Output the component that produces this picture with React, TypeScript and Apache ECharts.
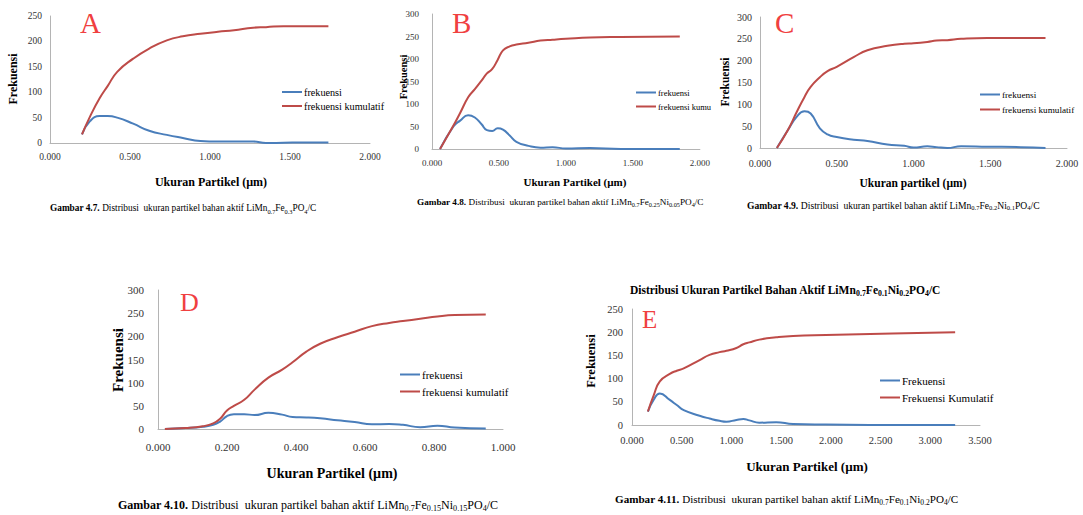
import React, { useEffect, useRef } from 'react';
import * as echarts from 'echarts';

// ---------- DATA ----------
// Panel A: LiMn0.7Fe0.3PO4/C
const sizesA = [0.2, 0.25, 0.31, 0.36, 0.42, 0.52, 0.62, 0.73, 0.83, 0.94, 1.05, 1.15, 1.27, 1.35, 1.46, 1.6, 1.74];
const freqA = [17, 43, 53, 53, 50, 38, 24, 16, 10, 4, 3, 3, 3, 0, 0.5, 1, 1];
const cumA = [17, 52, 88, 112, 140, 166, 186, 202, 210, 215, 219, 222, 227, 228, 230, 230, 230];

// Panel B: LiMn0.7Fe0.25Ni0.05PO4/C
const sizesB = [0.06, 0.16, 0.21, 0.27, 0.32, 0.37, 0.41, 0.45, 0.49, 0.53, 0.58, 0.63, 0.72, 0.81, 0.9, 1.0, 1.18, 1.41, 1.85];
const freqB = [0, 50, 63, 75, 70, 55, 42, 40, 46, 43, 30, 16, 7, 3, 4, 1, 2, 0, 0];
const cumB = [0, 52, 80, 115, 133, 152, 168, 178, 198, 219, 228, 232, 236, 241, 243, 245, 248, 249, 250];

// Panel C: LiMn0.7Fe0.2Ni0.1PO4/C
const sizesC = [0.11, 0.18, 0.24, 0.29, 0.33, 0.39, 0.44, 0.5, 0.61, 0.7, 0.83, 0.94, 1.0, 1.09, 1.15, 1.22, 1.31, 1.48, 1.7, 1.86];
const freqC = [0, 40, 72, 84, 79, 45, 31, 25, 19, 16, 8, 5, 1, 4, 2, 0, 4, 3, 2, 0];
const cumC = [0, 40, 83, 117, 140, 162, 176, 186, 208, 224, 234, 239, 240, 243, 246, 247, 250, 252, 252, 252];

// Panel D: LiMn0.7Fe0.15Ni0.15PO4/C
const sizesD = [0.02, 0.08, 0.13, 0.16, 0.18, 0.2, 0.22, 0.25, 0.28, 0.32, 0.36, 0.39, 0.43, 0.47, 0.52, 0.57, 0.62, 0.67, 0.71, 0.76, 0.81, 0.86, 0.95];
const freqD = [0, 2, 5, 9, 16, 28, 32, 32, 30, 35, 31, 26, 25, 23, 19, 15, 10, 11, 9, 4, 7, 3, 1];
const cumD = [0, 2, 6, 12, 22, 40, 50, 63, 85, 111, 128, 144, 167, 184, 198, 210, 222, 229, 233, 238, 243, 246, 247];

// Panel E: LiMn0.7Fe0.1Ni0.2PO4/C
const sizesE = [0.16, 0.22, 0.28, 0.38, 0.45, 0.52, 0.68, 0.78, 0.88, 0.95, 1.05, 1.12, 1.18, 1.28, 1.45, 1.62, 1.95, 2.62, 3.25];
const freqE = [29, 55, 68, 54, 43, 32, 20, 14, 9, 7, 11, 13, 10, 5, 6, 2, 1, 0, 0];
const cumE = [29, 65, 94, 110, 117, 122, 140, 151, 157, 160, 166, 174, 178, 184, 189, 192, 194, 197, 200];

const namesLower = ['frekuensi', 'frekuensi kumulatif'];
const namesUpper = ['Frekuensi', 'Frekuensi Kumulatif'];
// panel B's legend is cut off by panel C in the reference
const legendTextB = ['frekuensi', 'frekuensi kumu'];

const capA = '{b|Gambar 4.7.}{n| Distribusi  ukuran partikel bahan aktif LiMn}{s|0.7}{n|Fe}{s|0.3}{n|PO}{s|4}{n|/C}';
const capB = '{b|Gambar 4.8.}{n| Distribusi  ukuran partikel bahan aktif LiMn}{s|0.7}{n|Fe}{s|0.25}{n|Ni}{s|0.05}{n|PO}{s|4}{n|/C}';
const capC = '{b|Gambar 4.9.}{n| Distribusi  ukuran partikel bahan aktif LiMn}{s|0.7}{n|Fe}{s|0.2}{n|Ni}{s|0.1}{n|PO}{s|4}{n|/C}';
const capD = '{b|Gambar 4.10.}{n| Distribusi  ukuran partikel bahan aktif LiMn}{s|0.7}{n|Fe}{s|0.15}{n|Ni}{s|0.15}{n|PO}{s|4}{n|/C}';
const capE = '{b|Gambar 4.11.}{n| Distribusi  ukuran partikel bahan aktif LiMn}{s|0.7}{n|Fe}{s|0.1}{n|Ni}{s|0.2}{n|PO}{s|4}{n|/C}';
const headerE = '{b|Distribusi Ukuran Partikel Bahan Aktif LiMn}{s|0.7}{b|Fe}{s|0.1}{b|Ni}{s|0.2}{b|PO}{s|4}{b|/C}';

// ---------- STYLE ----------
const SERIF = 'Liberation Serif';
const BLUE = '#4a7ebb';
const RED = '#be4b48';
const LETTER = '#f04040';
const AXIS = '#b4b4b4';

const panels = [
  {
    box: { left: 0, top: 0, width: 390, height: 222 },
    grid: { left: 50, top: 16, width: 320, height: 127 },
    xMax: 2, xInt: 0.5, yMax: 250, yInt: 50,
    xs: sizesA, freq: freqA, cum: cumA, names: namesLower, legendText: namesLower,
    labelSize: 9.5, xMargin: 9, yMargin: 8,
    letter: { text: 'A', x: 80, y: 23, size: 29 },
    yTitle: { x: 13, y: 79, size: 12 },
    xTitle: { text: 'Ukuran Partikel (\u00b5m)', x: 211, y: 182, size: 12 },
    legend: { left: 282, top: 87, size: 10.2, gap: 4 },
    caption: { text: capA, x: 50, y: 208, size: 9.3 },
  },
  {
    box: { left: 390, top: 0, width: 323, height: 222 },
    grid: { left: 42, top: 14, width: 288, height: 135 },
    xMax: 2, xInt: 0.5, yMax: 300, yInt: 50,
    xs: sizesB, freq: freqB, cum: cumB, names: namesLower, legendText: legendTextB,
    labelSize: 9, xMargin: 9, yMargin: 13,
    letter: { text: 'B', x: 62, y: 23, size: 29 },
    yTitle: { x: 13, y: 77, size: 10.5 },
    xTitle: { text: 'Ukuran Partikel (\u00b5m)', x: 185, y: 182, size: 11 },
    legend: { left: 246, top: 88, size: 8.5, gap: 5 },
    caption: { text: capB, x: 27, y: 202, size: 9.2 },
  },
  {
    box: { left: 713, top: 0, width: 370, height: 222 },
    grid: { left: 47, top: 17, width: 307, height: 131 },
    xMax: 2, xInt: 0.5, yMax: 300, yInt: 50,
    xs: sizesC, freq: freqC, cum: cumC, names: namesLower, legendText: namesLower,
    labelSize: 10, xMargin: 10, yMargin: 8,
    letter: { text: 'C', x: 62, y: 23, size: 29 },
    yTitle: { x: 12, y: 82, size: 11.5 },
    xTitle: { text: 'Ukuran partikel (\u00b5m)', x: 200, y: 183, size: 11.5 },
    legend: { left: 267, top: 90, size: 9.2, gap: 6 },
    caption: { text: capC, x: 34, y: 205, size: 9.6 },
  },
  {
    box: { left: 110, top: 270, width: 440, height: 245 },
    grid: { left: 48, top: 20, width: 345, height: 139 },
    xMax: 1, xInt: 0.2, yMax: 300, yInt: 50,
    xs: sizesD, freq: freqD, cum: cumD, names: namesLower, legendText: namesLower,
    labelSize: 11, xMargin: 12, yMargin: 14,
    letter: { text: 'D', x: 70, y: 32, size: 26 },
    yTitle: { x: 8, y: 90, size: 15 },
    xTitle: { text: 'Ukuran Partikel (\u00b5m)', x: 222, y: 203, size: 14 },
    legend: { left: 290, top: 99, size: 11, gap: 6 },
    caption: { text: capD, x: 8, y: 235, size: 12 },
  },
  {
    box: { left: 560, top: 270, width: 470, height: 245 },
    grid: { left: 72, top: 39, width: 348, height: 116 },
    xMax: 3.5, xInt: 0.5, yMax: 250, yInt: 50,
    xs: sizesE, freq: freqE, cum: cumE, names: namesUpper, legendText: namesUpper,
    labelSize: 10.5, xMargin: 10, yMargin: 9,
    letter: { text: 'E', x: 82, y: 49, size: 25 },
    yTitle: { x: 31, y: 91, size: 12.5 },
    xTitle: { text: 'Ukuran Partikel (\u00b5m)', x: 247, y: 196, size: 13 },
    legend: { left: 320, top: 105, size: 11, gap: 6 },
    caption: { text: capE, x: 55, y: 229, size: 11.1 },
    header: { text: headerE, x: 225, y: 20, size: 11.5 },
  },
];

function richFor(size: number, bold = false) {
  return {
    b: { fontFamily: SERIF, fontSize: size, fontWeight: 'bold', color: '#000', lineHeight: size * 1.3 },
    n: { fontFamily: SERIF, fontSize: size, fontWeight: bold ? 'bold' : 'normal', color: '#000', lineHeight: size * 1.3 },
    s: { fontFamily: SERIF, fontSize: size * 0.68, fontWeight: bold ? 'bold' : 'normal', color: '#000', lineHeight: size * 0.68, verticalAlign: 'bottom' },
  };
}

function textEl(x: number, y: number, text: string, size: number, opts: any = {}) {
  const weight = opts.weight || 'bold';
  return {
    type: 'text',
    x,
    y,
    rotation: opts.rotation || 0,
    z: 10,
    style: {
      text,
      fill: opts.fill || '#000',
      font: `${weight} ${size}px ${SERIF}`,
      fontFamily: SERIF,
      fontSize: size,
      fontWeight: weight,
      align: opts.align || 'center',
      textAlign: opts.align || 'center',
      verticalAlign: 'middle',
      textVerticalAlign: 'middle',
    },
  };
}

function buildOption(p: any) {
  const labelStyle = { fontFamily: SERIF, fontSize: p.labelSize, color: '#333' };
  const graphic: any[] = [
    textEl(p.letter.x, p.letter.y, p.letter.text, p.letter.size, { fill: LETTER, weight: 'normal', align: 'left' }),
    textEl(p.yTitle.x, p.yTitle.y, 'Frekuensi', p.yTitle.size, { rotation: Math.PI / 2 }),
    textEl(p.xTitle.x, p.xTitle.y, p.xTitle.text, p.xTitle.size),
    {
      type: 'text',
      x: p.caption.x,
      y: p.caption.y,
      z: 10,
      style: {
        text: p.caption.text,
        rich: richFor(p.caption.size),
        align: 'left',
        textAlign: 'left',
        verticalAlign: 'middle',
        textVerticalAlign: 'middle',
      },
    },
  ];
  if (p.header) {
    graphic.push({
      type: 'text',
      x: p.header.x,
      y: p.header.y,
      z: 10,
      style: {
        text: p.header.text,
        rich: richFor(p.header.size, true),
        align: 'center',
        textAlign: 'center',
        verticalAlign: 'middle',
        textVerticalAlign: 'middle',
      },
    });
  }
  return {
    animation: false,
    textStyle: { fontFamily: SERIF },
    grid: { ...p.grid, containLabel: false },
    xAxis: {
      type: 'value',
      min: 0,
      max: p.xMax,
      interval: p.xInt,
      axisLine: { show: true, lineStyle: { color: AXIS, width: 1 } },
      axisTick: { show: false },
      splitLine: { show: false },
      axisLabel: { ...labelStyle, margin: p.xMargin, formatter: (v: number) => v.toFixed(3) },
    },
    yAxis: {
      type: 'value',
      min: 0,
      max: p.yMax,
      interval: p.yInt,
      axisLine: { show: true, lineStyle: { color: AXIS, width: 1 } },
      axisTick: { show: false },
      splitLine: { show: false },
      axisLabel: { ...labelStyle, margin: p.yMargin },
    },
    legend: {
      orient: 'vertical',
      left: p.legend.left,
      top: p.legend.top,
      icon: 'rect',
      itemWidth: 20,
      itemHeight: 2,
      itemGap: p.legend.gap,
      padding: 0,
      selectedMode: false,
      formatter: (name: string) => p.legendText[p.names.indexOf(name)],
      textStyle: { fontFamily: SERIF, fontSize: p.legend.size, color: '#000', padding: [0, 0, 0, -3] },
      data: p.names,
    },
    series: [
      {
        name: p.names[0],
        type: 'line',
        smooth: true,
        symbol: 'none',
        data: p.xs.map((x: number, i: number) => [x, p.freq[i]]),
        lineStyle: { color: BLUE, width: 2 },
        itemStyle: { color: BLUE },
      },
      {
        name: p.names[1],
        type: 'line',
        smooth: true,
        symbol: 'none',
        data: p.xs.map((x: number, i: number) => [x, p.cum[i]]),
        lineStyle: { color: RED, width: 2 },
        itemStyle: { color: RED },
      },
    ],
    graphic,
  };
}

function Panel({ p }: { p: any }) {
  const ref = useRef<HTMLDivElement>(null);
  useEffect(() => {
    const chart = echarts.init(ref.current as HTMLDivElement, null, { renderer: 'svg' });
    chart.setOption(buildOption(p));
    return () => chart.dispose();
  }, [p]);
  return (
    <div
      style={{
        position: 'absolute',
        left: p.box.left,
        top: p.box.top,
        width: p.box.width,
        height: p.box.height,
        overflow: 'hidden',
      }}
    >
      <div ref={ref} style={{ width: p.box.width, height: p.box.height }} />
    </div>
  );
}

export default function App() {
  return (
    <div style={{ position: 'absolute', left: 0, top: 0, width: 1083, height: 515, background: '#fff', overflow: 'hidden' }}>
      {panels.map((p, i) => (
        <Panel key={i} p={p} />
      ))}
    </div>
  );
}
